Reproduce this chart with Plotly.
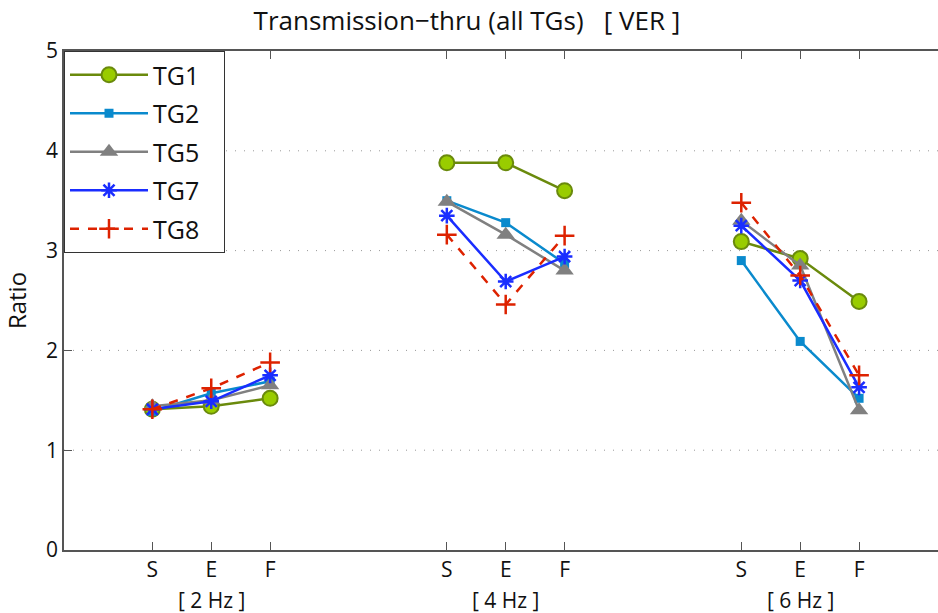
import plotly.graph_objects as go

# ---- data ----
tick_labels = ["S", "E", "F", "S", "E", "F", "S", "E", "F"]
positions = [1, 2, 3, 6, 7, 8, 11, 12, 13]
group_labels = ["[ 2 Hz ]", "[ 4 Hz ]", "[ 6 Hz ]"]
group_centers = [2, 7, 12]

tg1 = [1.41, 1.44, 1.52, 3.88, 3.88, 3.60, 3.09, 2.92, 2.49]
tg2 = [1.39, 1.57, 1.69, 3.50, 3.28, 2.87, 2.90, 2.09, 1.52]
tg5 = [1.44, 1.50, 1.65, 3.49, 3.16, 2.80, 3.30, 2.85, 1.40]
tg7 = [1.41, 1.49, 1.75, 3.35, 2.69, 2.94, 3.25, 2.70, 1.63]
tg8 = [1.41, 1.62, 1.88, 3.16, 2.46, 3.15, 3.48, 2.75, 1.75]

series = [
    ("TG1", tg1, dict(color="#6a8a0c", width=2.5, dash="solid"),
     dict(symbol="circle", size=15, color="#99cc00", line=dict(color="#6a8a0c", width=2))),
    ("TG2", tg2, dict(color="#0a8acd", width=2.5, dash="solid"),
     dict(symbol="square", size=9, color="#0a8acd", line=dict(width=0))),
    ("TG5", tg5, dict(color="#808080", width=2.5, dash="solid"),
     dict(symbol="triangle-up", size=16, color="#808080", line=dict(width=0))),
    ("TG7", tg7, dict(color="#1a2dff", width=2.5, dash="solid"),
     dict(symbol="asterisk-open", size=13, color="#1a2dff", line=dict(color="#1a2dff", width=2.5))),
    ("TG8", tg8, dict(color="#dd2200", width=2.5, dash="dash"),
     dict(symbol="cross-thin-open", size=14, color="#dd2200", line=dict(color="#dd2200", width=2.5))),
]


def with_gaps(xs, ys):
    ox, oy = [], []
    for i, (x, y) in enumerate(zip(xs, ys)):
        if i > 0 and i % 3 == 0:
            ox.append(None)
            oy.append(None)
        ox.append(x)
        oy.append(y)
    return ox, oy


fig = go.Figure()
for name, vals, line, marker in series:
    xs, ys = with_gaps(positions, vals)
    fig.add_trace(go.Scatter(x=xs, y=ys, mode="lines+markers",
                             name=name + "&nbsp;&nbsp;&nbsp;",
                             line=line, marker=marker, legendgroup=name,
                             connectgaps=False))

FONT = "Open Sans"
for lbl, c in zip(group_labels, group_centers):
    fig.add_annotation(x=c, xref="x", y=-0.101, yref="paper", text=lbl,
                       showarrow=False, yanchor="middle",
                       font=dict(family=FONT, size=21, color="#111111"))

fig.update_layout(
    width=938, height=613,
    margin=dict(l=64, r=0, t=51, b=63),
    paper_bgcolor="white", plot_bgcolor="white",
    font=dict(family=FONT, size=21, color="#111111"),
    title=dict(text="Transmission\u2212thru (all TGs)   [ VER ]",
               x=467 / 938, xanchor="center", y=1 - 21 / 613, yanchor="middle",
               font=dict(family=FONT, size=26, color="#111111")),
    showlegend=True,
    legend=dict(x=0, y=1, xanchor="left", yanchor="top",
                bordercolor="#333333", borderwidth=1, bgcolor="white",
                font=dict(family=FONT, size=25, color="#111111"),
                itemwidth=78, tracegroupgap=3,
                itemsizing="trace"),
    xaxis=dict(range=[-0.5, 14.34], tickmode="array", tickvals=positions,
               ticktext=tick_labels, ticks="inside", ticklen=8,
               tickcolor="#555555", showline=True, linecolor="#555555",
               linewidth=1.5, mirror="ticks", showgrid=False, zeroline=False,
               tickfont=dict(family=FONT, size=21)),
    yaxis=dict(range=[0, 5], tickvals=[0, 1, 2, 3, 4, 5], ticks="inside",
               ticklen=8, tickcolor="#555555", showline=True,
               linecolor="#555555", linewidth=1.5, mirror=False,
               showgrid=False, zeroline=False,
               title=dict(text="Ratio", standoff=14, font=dict(family=FONT, size=24)),
               tickfont=dict(family=FONT, size=21)),
)

for yv in [1, 2, 3, 4]:
    fig.add_shape(type="line", xref="paper", x0=0, x1=1, yref="y", y0=yv, y1=yv,
                  line=dict(color="#999999", width=1, dash="1px,8px"), layer="below")

fig.write_html("out.html")
